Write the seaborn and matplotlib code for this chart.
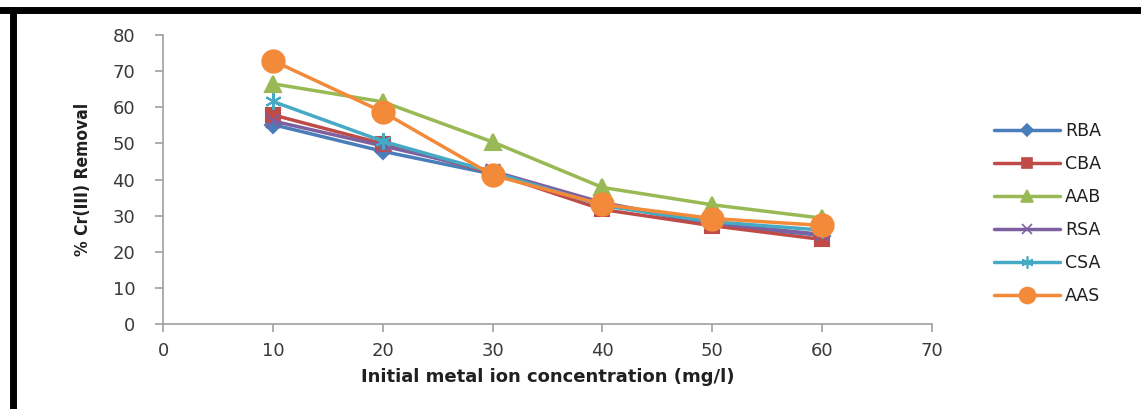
import numpy as np
import pandas as pd
import matplotlib
matplotlib.use('Agg')
import matplotlib.pyplot as plt
import seaborn as sns
from matplotlib.lines import Line2D

# data
conc = [10, 20, 30, 40, 50, 60]
samples = ['RBA', 'CBA', 'AAB', 'RSA', 'CSA', 'AAS']
rba = [55.2, 47.8, 41.5, 33.2, 27.6, 24.5]
cba = [57.9, 49.9, 41.8, 31.7, 27.2, 23.4]
aab = [66.5, 61.5, 50.4, 37.8, 33.0, 29.3]
rsa = [56.2, 49.3, 42.3, 33.6, 27.9, 24.8]
csa = [61.6, 50.6, 42.0, 32.8, 28.3, 26.0]
aas = [72.9, 58.7, 41.2, 33.1, 29.2, 27.3]

colors = ['#4A7EBB', '#BE4B48', '#98B954', '#7D60A0', '#46AAC5', '#F38A3A']
markers = ['D', 's', '^', 'x', (6, 2, 0), 'o']
msizes = [8, 10, 12, 10, 12, 16]

df = pd.DataFrame({'conc': conc * 6,
                   'removal': rba + cba + aab + rsa + csa + aas,
                   'sample': np.repeat(samples, len(conc))})

sns.set_style('white')
plt.rcParams['font.family'] = ['DejaVu Sans']

fig = plt.figure(figsize=(11.41, 4.09), dpi=100)
ax = fig.add_axes([0.1429, 0.2078, 0.674, 0.7066])

for s, c, m, ms in zip(samples, colors, markers, msizes):
    sub = df[df['sample'] == s]
    sns.lineplot(data=sub, x='conc', y='removal', ax=ax, color=c, linewidth=2.5,
                 marker=m, markersize=ms, markeredgecolor=c, markeredgewidth=1.5,
                 label=s, legend=False)

ax.set_xlim(0, 70)
ax.set_ylim(0, 80)
ax.set_xticks(range(0, 71, 10))
ax.set_yticks(range(0, 81, 10))
for sp in ['top', 'right']:
    ax.spines[sp].set_visible(False)
for sp in ['left', 'bottom']:
    ax.spines[sp].set_color('#A0A0A0')
    ax.spines[sp].set_linewidth(1.2)
ax.tick_params(axis='both', direction='out', length=6, width=1.2, color='#A0A0A0',
               labelsize=13, labelcolor='#3A3A3A', left=True, bottom=True)
ax.tick_params(axis='y', pad=14)
ax.tick_params(axis='x', pad=7)

ax.set_xlabel('Initial metal ion concentration (mg/l)', fontsize=13, fontweight='bold',
              color='#202020', labelpad=6)
ax.set_ylabel('% Cr(III) Removal', fontsize=12.5, fontweight='bold', color='#202020',
              fontstretch='condensed', labelpad=15)

handles = [Line2D([], [], color=c, marker=m, markersize=ms * 0.72, linewidth=2.5,
                  markeredgecolor=c, markeredgewidth=1.2)
           for c, m, ms in zip(colors, markers, msizes)]
fig.legend(handles, samples, loc='upper left', bbox_to_anchor=(0.8575, 0.74),
           frameon=False, fontsize=12.5, handlelength=3.8, handletextpad=0.3,
           labelspacing=0.86, labelcolor='#202020')

# black border at top and left as in the picture
fig.add_artist(Line2D([0, 1], [0.975, 0.975], color='black', linewidth=5,
                      transform=fig.transFigure))
fig.add_artist(Line2D([0.0115, 0.0115], [0, 0.975], color='black', linewidth=5,
                      transform=fig.transFigure))

fig.savefig('out.png', dpi=100)
